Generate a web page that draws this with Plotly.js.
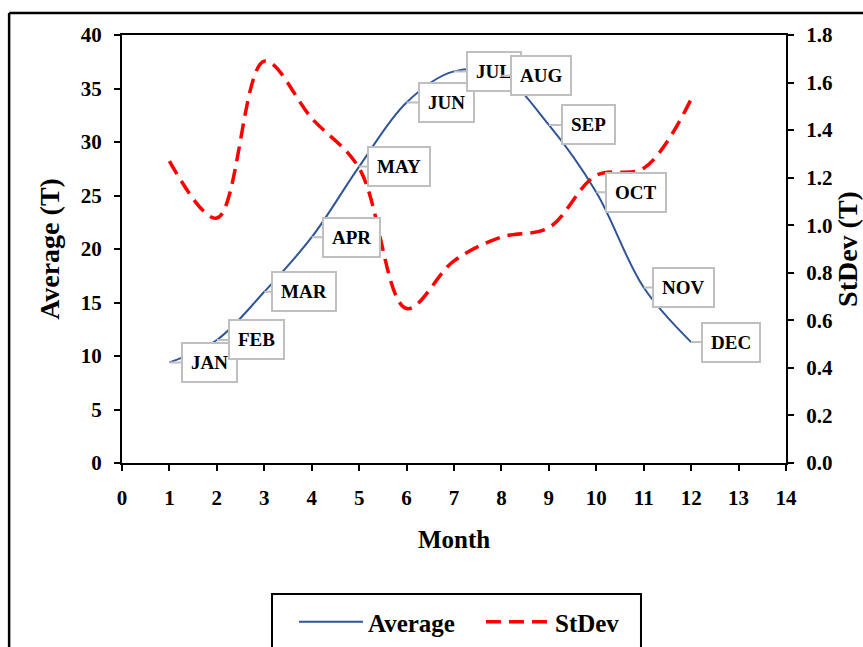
<!DOCTYPE html>
<html>
<head>
<meta charset="utf-8">
<script src="https://cdn.plot.ly/plotly-3.0.1.min.js"></script>
<style>
  html, body { margin: 0; padding: 0; background: #ffffff; overflow: hidden; }
  #chart { width: 863px; height: 647px; }
</style>
</head>
<body>
<div id="chart"></div>
<script>
// ---- data ----
const months = [1, 2, 3, 4, 5, 6, 7, 8, 9, 10, 11, 12];
const monthLabels = ['JAN', 'FEB', 'MAR', 'APR', 'MAY', 'JUN', 'JUL', 'AUG', 'SEP', 'OCT', 'NOV', 'DEC'];
const average = [9.4, 11.5, 16.0, 21.1, 27.7, 33.7, 36.6, 36.2, 31.6, 25.3, 16.4, 11.3];
const stdev = [1.27, 1.03, 1.69, 1.45, 1.24, 0.65, 0.85, 0.95, 0.99, 1.21, 1.24, 1.53];
const xTicks = [0, 1, 2, 3, 4, 5, 6, 7, 8, 9, 10, 11, 12, 13, 14];
const yTicks = [0, 5, 10, 15, 20, 25, 30, 35, 40];
const y2Ticks = [0, 0.2, 0.4, 0.6, 0.8, 1.0, 1.2, 1.4, 1.6, 1.8];

const FONT = 'Liberation Serif, Times New Roman, serif';
const bold = (size) => ({ family: FONT, size: size, color: '#000000', weight: 700 });

const traces = [
  {
    x: months, y: average, name: 'Average', type: 'scatter', mode: 'lines',
    line: { color: '#2F5597', width: 2, shape: 'spline', smoothing: 1 },
    yaxis: 'y'
  },
  {
    x: months, y: stdev, name: 'StDev', type: 'scatter', mode: 'lines',
    line: { color: '#FF0000', width: 3.5, dash: '15px,8px', shape: 'spline', smoothing: 1 },
    yaxis: 'y2'
  }
];

const annotations = months.map((m, i) => ({
  x: m, y: average[i], xref: 'x', yref: 'y',
  text: monthLabels[i],
  showarrow: true, arrowhead: 0, arrowwidth: 2, arrowcolor: '#BFBFBF',
  ax: 40, ay: 0,
  bgcolor: '#FFFFFF', bordercolor: '#BFBFBF', borderwidth: 2, borderpad: 8,
  font: bold(19)
}));

const axisCommon = {
  showline: true, linecolor: '#000000', linewidth: 2,
  ticks: 'outside', ticklen: 6, tickwidth: 2, tickcolor: '#000000',
  showgrid: false, zeroline: false, tickfont: bold(21), automargin: false
};

const layout = {
  width: 863, height: 647,
  paper_bgcolor: '#FFFFFF', plot_bgcolor: '#FFFFFF',
  margin: { l: 122, r: 77, t: 35, b: 184, autoexpand: false },
  showlegend: true,
  legend: {
    orientation: 'h', x: 0.259, y: -0.3715, xanchor: 'left', yanchor: 'middle',
    borderwidth: 0, bgcolor: 'rgba(0,0,0,0)',
    font: bold(25), itemwidth: 64, entrywidth: 108
  },
  xaxis: Object.assign({}, axisCommon, {
    range: [0, 14], tickvals: xTicks, mirror: true,
    ticklabelstandoff: 9,
    title: { text: 'Month', font: bold(25), standoff: 21 }
  }),
  yaxis: Object.assign({}, axisCommon, {
    range: [0, 40], tickvals: yTicks,
    ticklabelstandoff: 8,
    title: { text: 'Average (T)', font: bold(28), standoff: 13 }
  }),
  yaxis2: Object.assign({}, axisCommon, {
    range: [0, 1.8], tickvals: y2Ticks, tickformat: '.1f',
    overlaying: 'y', side: 'right',
    ticklabelstandoff: 8,
    title: { text: 'StDev (T)', font: bold(28), standoff: 36 }
  }),
  annotations: annotations,
  shapes: [
    // outer frame: left and top edges (right and bottom lie outside the picture)
    {
      type: 'line', xref: 'paper', yref: 'paper',
      x0: -0.170, x1: -0.170, y0: -0.46, y1: 1.0514,
      line: { color: '#000000', width: 2.5 }, layer: 'below'
    },
    {
      type: 'line', xref: 'paper', yref: 'paper',
      x0: -0.170, x1: 1.2, y0: 1.0514, y1: 1.0514,
      line: { color: '#000000', width: 2.5 }, layer: 'below'
    },
    // legend box (its bottom edge lies outside the picture)
    {
      type: 'path', xref: 'paper', yref: 'paper',
      path: 'M 0.2259 -0.46 L 0.2259 -0.306 L 0.7816 -0.306 L 0.7816 -0.46',
      line: { color: '#000000', width: 2 }, layer: 'below'
    }
  ]
};

Plotly.newPlot('chart', traces, layout, { displayModeBar: false, staticPlot: true });
</script>
</body>
</html>
